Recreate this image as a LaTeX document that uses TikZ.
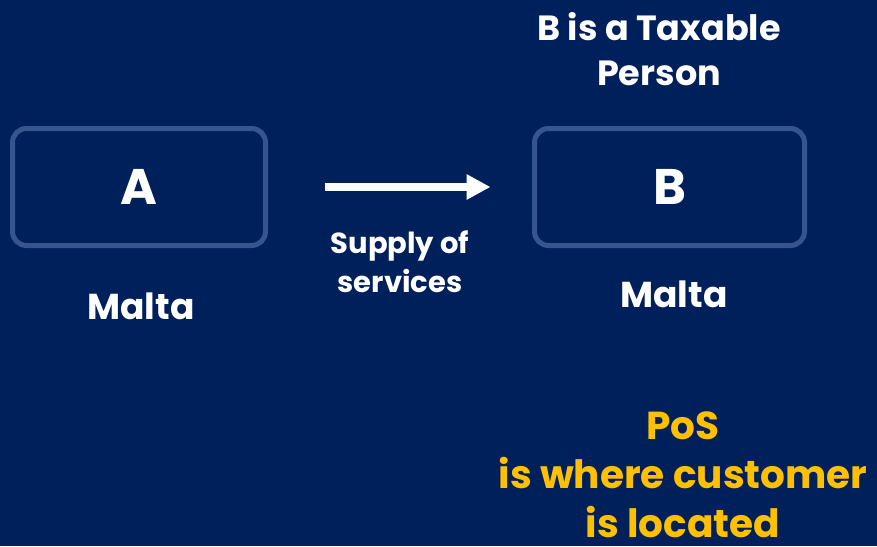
\documentclass[tikz,border=0pt]{standalone}
\usepackage{fontspec}
\setmainfont{Poppins}
\usetikzlibrary{arrows.meta,positioning}
\definecolor{navy}{HTML}{00205B}
\definecolor{boxline}{HTML}{36558F}
\definecolor{posgold}{HTML}{FFC000}

\begin{document}
\begin{tikzpicture}[x=1pt,y=-1pt,
    party/.style={draw=boxline,line width=5pt,rounded corners=14pt,minimum height=117pt,
      inner sep=0pt,text=white,font=\fontsize{50}{50}\selectfont\bfseries},
    place/.style={anchor=base,inner sep=0pt,text=white,align=center,font=\fontsize{36}{36}\selectfont\bfseries},
    supply/.style={white,line width=8pt,-{Triangle[length=24pt,width=24pt]}}]
    \useasboundingbox (0,0) rectangle (877,546);
    \fill[navy] (0,0) rectangle (877,546);

    \node[party,minimum width=253pt] (a) at (139,187) {A};
    \node[party,minimum width=270pt] (b) at (669.5,187) {B};

    \node[place] (ma) at (141,319) {Malta};
    \node[place] (mb) at (674,307) {Malta};
    \node[place,font=\fontsize{35}{45}\selectfont\bfseries] (tax) at (659,85) {B is a Taxable\\Person};

    % the supply from A to B
    \coordinate (s0) at ([xshift=56.5pt]a.east);
    \coordinate (s1) at ([xshift=-41.5pt]b.west);
    \draw[supply] (s0) -- (s1);
    \node[place,font=\fontsize{29}{39}\selectfont\bfseries] (sup) at (400,292) {Supply of\\services};

    \node[place,text=posgold,font=\fontsize{39}{49}\selectfont\bfseries] (pos) at (683,537)
      {PoS\\is where customer\\is located};
\end{tikzpicture}
\end{document}
